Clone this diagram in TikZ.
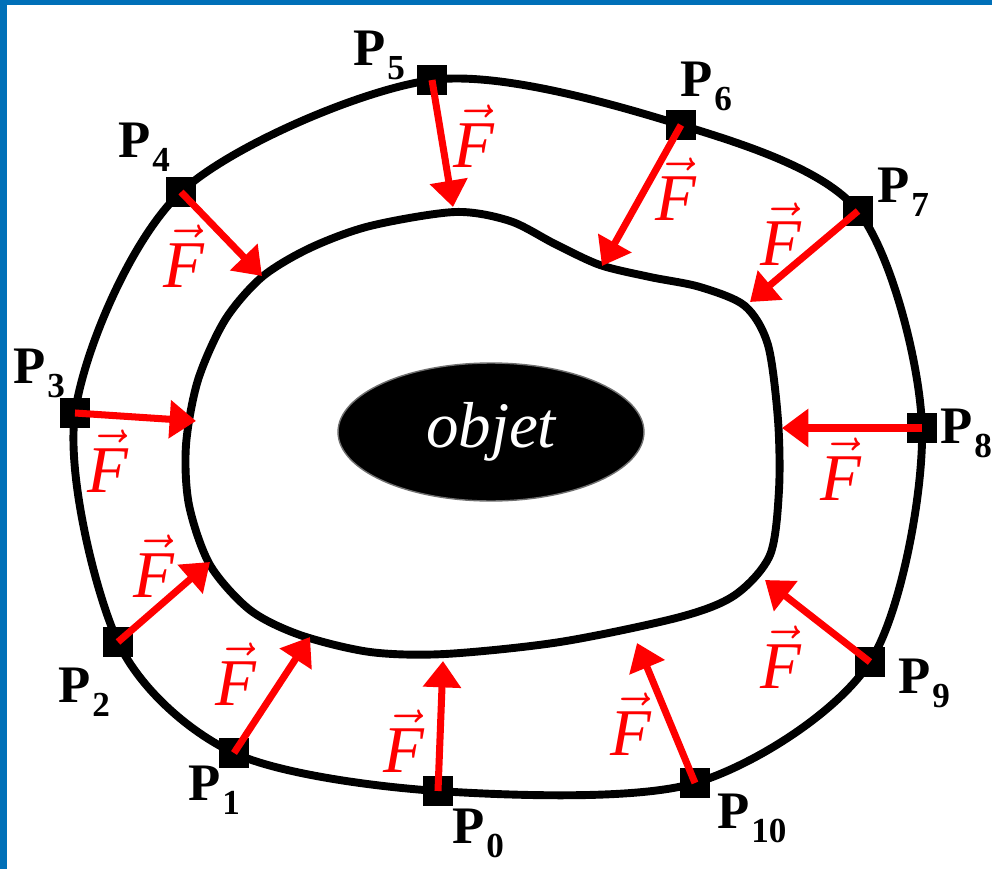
\documentclass[tikz,border=0pt]{standalone}
\usepackage{fix-cm}
\usepackage{fontspec}
\setmainfont{Liberation Serif}
\usetikzlibrary{arrows.meta,shapes.geometric}
\definecolor{framebg}{HTML}{0070B8}
\definecolor{forcered}{HTML}{FF0000}
\definecolor{objedge}{HTML}{707070}

\newcommand{\ptname}[1]{P\kern1pt\raisebox{-8pt}{\fontsize{20}{20}\selectfont #1}}
\newcommand{\forcevec}{$\vec{\mbox{F}}$}

\begin{document}
\begin{tikzpicture}[
    x=0.02cm, y=-0.02cm,
    ptbox/.style={
        fill=black, minimum size=0.6cm, inner sep=0pt
    },
    ptlabel/.style={
        anchor=base west, inner sep=0pt,
        font=\bfseries\fontsize{30}{30}\selectfont
    },
    forcelabel/.style={
        anchor=base west, inner sep=0pt, text=forcered,
        font=\itshape\fontsize{38}{40}\selectfont
    },
    forcearrow/.style={
        -{Triangle[length=15pt,width=21pt]}, forcered, line width=4pt
    },
    contour/.style={
        black, line width=4.5pt
    },
    objbox/.style={
        ellipse, fill=black, draw=objedge, line width=0.8pt,
        minimum width=6.12cm, minimum height=2.76cm, inner sep=0pt,
        text=white, font=\itshape\fontsize{37}{38}\selectfont
    },
]

% ===== Frame =====
\useasboundingbox (0,0) rectangle (992,869);
\fill[white] (0,0) rectangle (992,869);
\fill[framebg] (0,0) rectangle (7,869);
\fill[framebg] (0,0) rectangle (992,5);

% ===== Control points =====
\node[ptbox] (p0)  at (438,791) {};
\node[ptbox] (p1)  at (234,753) {};
\node[ptbox] (p2)  at (118,642) {};
\node[ptbox] (p3)  at (75,413)  {};
\node[ptbox] (p4)  at (181,192) {};
\node[ptbox] (p5)  at (432,80)  {};
\node[ptbox] (p6)  at (681,125) {};
\node[ptbox] (p7)  at (858,211) {};
\node[ptbox] (p8)  at (922,428) {};
\node[ptbox] (p9)  at (870,662) {};
\node[ptbox] (p10) at (695,783) {};

% ===== Outer contour =====
\draw[contour] plot[smooth cycle] coordinates {
    (p0.center) (p1.center) (p2.center) (p3.center) (p4.center) (p5.center)
    (p6.center) (p7.center) (p8.center) (p9.center) (p10.center)};

% ===== Inner contour =====
\draw[contour] plot[smooth cycle] coordinates {
    (455,212) (510,221) (555,244) (600,265) (650,277) (700,287) (745,306)
    (768,345) (778,420) (779,490) (770,555) (735,595) (680,617) (560,642)
    (445,654) (370,652) (300,635) (250,610) (210,565) (189,505) (186,445)
    (198,380) (225,320) (262,277) (310,248) (370,226)};

% ===== Object =====
\node[objbox] (obj) at (491,432) {objet};

% ===== Point labels =====
\node[ptlabel] (l0)  at (452,843) {\ptname{0}};
\node[ptlabel] (l1)  at (188,800) {\ptname{1}};
\node[ptlabel] (l2)  at (58,702)  {\ptname{2}};
\node[ptlabel] (l3)  at (13,383)  {\ptname{3}};
\node[ptlabel] (l4)  at (118,157) {\ptname{4}};
\node[ptlabel] (l5)  at (353,65)  {\ptname{5}};
\node[ptlabel] (l6)  at (680,96)  {\ptname{6}};
\node[ptlabel] (l7)  at (877,202) {\ptname{7}};
\node[ptlabel] (l8)  at (940,443) {\ptname{8}};
\node[ptlabel] (l9)  at (898,693) {\ptname{9}};
\node[ptlabel] (l10) at (717,828) {\ptname{10}};

% ===== Arrow tips on the inner contour =====
\coordinate (t0)  at (443,661);
\coordinate (t1)  at (310,637);
\coordinate (t2)  at (210,562);
\coordinate (t3)  at (196,421);
\coordinate (t4)  at (262,276);
\coordinate (t5)  at (453,207);
\coordinate (t6)  at (602,266);
\coordinate (t7)  at (750,302);
\coordinate (t8)  at (782,428);
\coordinate (t9)  at (765,580);
\coordinate (t10) at (637,643);

% ===== Forces =====
\draw[forcearrow] (p0.center)  -- (t0);
\draw[forcearrow] (p1.center)  -- (t1);
\draw[forcearrow] (p2.center)  -- (t2);
\draw[forcearrow] (p3.center)  -- (t3);
\draw[forcearrow] (p4.center)  -- (t4);
\draw[forcearrow] (p5.center)  -- (t5);
\draw[forcearrow] (p6.center)  -- (t6);
\draw[forcearrow] (p7.center)  -- (t7);
\draw[forcearrow] (p8.center)  -- (t8);
\draw[forcearrow] (p9.center)  -- (t9);
\draw[forcearrow] (p10.center) -- (t10);

% ===== Force labels =====
\node[forcelabel] (f0)  at (383,772) {\forcevec};
\node[forcelabel] (f1)  at (215,705) {\forcevec};
\node[forcelabel] (f2)  at (133,597) {\forcevec};
\node[forcelabel] (f3)  at (87,492)  {\forcevec};
\node[forcelabel] (f4)  at (163,287) {\forcevec};
\node[forcelabel] (f5)  at (453,167) {\forcevec};
\node[forcelabel] (f6)  at (655,220) {\forcevec};
\node[forcelabel] (f7)  at (760,265) {\forcevec};
\node[forcelabel] (f8)  at (820,500) {\forcevec};
\node[forcelabel] (f9)  at (760,688) {\forcevec};
\node[forcelabel] (f10) at (610,755) {\forcevec};

\end{tikzpicture}
\end{document}
